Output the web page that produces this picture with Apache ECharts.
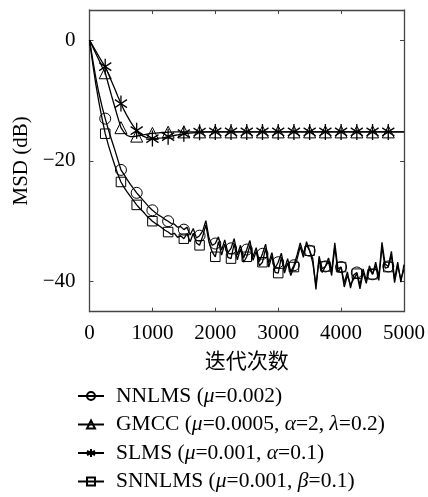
<!DOCTYPE html>
<html>
<head>
<meta charset="utf-8">
<script src="https://cdn.jsdelivr.net/npm/echarts@6/dist/echarts.min.js"></script>
<style>
html, body { margin: 0; padding: 0; background: #fff; }
#chart { width: 428px; height: 497px; }
</style>
</head>
<body>
<div id="chart"></div>
<script>
// 迭代次数 (step 50), 标记每 250 次
var iters = [];
for (var i = 0; i <= 100; i++) iters.push(i * 50);
var markEvery = 5;

var names = ['NNLMS (μ=0.002)', 'GMCC (μ=0.0005, α=2, λ=0.2)', 'SLMS (μ=0.001, α=0.1)', 'SNNLMS (μ=0.001, β=0.1)'];

var nnlms = [0, -3.2, -6.2, -8.8, -11.0, -13.0, -14.8, -16.5, -18.1, -19.8,
	-21.5, -22.3, -23.1, -23.9, -24.6, -25.3, -25.9, -26.5, -27.1, -27.7,
	-28.2, -28.6, -29.0, -29.3, -29.7, -30.0, -30.4, -30.5, -31.0, -30.9,
	-31.4, -31.0, -32.3, -31.2, -32.8, -32.4, -31.6, -29.9, -32.8, -34.0,
	-33.7, -32.6, -34.8, -33.1, -35.2, -34.5, -32.9, -35.6, -34.0, -36.1,
	-34.7, -33.2, -35.9, -34.4, -36.7, -35.4, -33.8, -36.9, -35.2, -37.8,
	-36.8, -35.3, -38.0, -36.2, -38.4, -37.3, -35.6, -33.6, -35.4, -33.9,
	-34.9, -36.2, -41.3, -35.8, -37.9, -37.5, -36.1, -38.3, -33.6, -37.9,
	-37.6, -40.2, -38.4, -41.1, -38.9, -38.5, -40.6, -37.9, -39.8, -37.4,
	-38.8, -36.8, -39.2, -33.5, -37.1, -37.5, -35.0, -39.6, -36.8, -40.1,
	-37.2];

var gmcc = [0, -1.1, -2.2, -3.3, -4.4, -5.4, -7.3, -9.2, -11.0, -12.8,
	-14.5, -15.3, -15.8, -16.0, -16.0, -15.9, -15.8, -15.7, -15.6, -15.5,
	-15.45, -15.4, -15.35, -15.3, -15.3, -15.25, -15.25, -15.2, -15.2, -15.2,
	-15.2, -15.2, -15.2, -15.2, -15.2, -15.2, -15.2, -15.2, -15.2, -15.2,
	-15.2, -15.2, -15.2, -15.2, -15.2, -15.2, -15.2, -15.2, -15.2, -15.2,
	-15.2, -15.2, -15.2, -15.2, -15.2, -15.2, -15.2, -15.2, -15.2, -15.2,
	-15.2, -15.2, -15.2, -15.2, -15.2, -15.2, -15.2, -15.2, -15.2, -15.2,
	-15.2, -15.2, -15.2, -15.2, -15.2, -15.2, -15.2, -15.2, -15.2, -15.2,
	-15.2, -15.2, -15.2, -15.2, -15.2, -15.2, -15.2, -15.2, -15.2, -15.2,
	-15.2, -15.2, -15.2, -15.2, -15.2, -15.2, -15.2, -15.2, -15.2, -15.2,
	-15.2];

var slms = [0, -0.9, -1.8, -2.7, -3.6, -4.4, -5.6, -6.8, -8.0, -9.3,
	-10.5, -11.6, -12.6, -13.5, -14.3, -15.0, -15.5, -15.9, -16.1, -16.25,
	-16.3, -16.3, -16.25, -16.2, -16.1, -16.0, -15.9, -15.8, -15.7, -15.6,
	-15.5, -15.45, -15.4, -15.35, -15.3, -15.25, -15.25, -15.2, -15.2, -15.2,
	-15.2, -15.2, -15.2, -15.2, -15.2, -15.2, -15.2, -15.2, -15.2, -15.2,
	-15.2, -15.2, -15.2, -15.2, -15.2, -15.2, -15.2, -15.2, -15.2, -15.2,
	-15.2, -15.2, -15.2, -15.2, -15.2, -15.2, -15.2, -15.2, -15.2, -15.2,
	-15.2, -15.2, -15.2, -15.2, -15.2, -15.2, -15.2, -15.2, -15.2, -15.2,
	-15.2, -15.2, -15.2, -15.2, -15.2, -15.2, -15.2, -15.2, -15.2, -15.2,
	-15.2, -15.2, -15.2, -15.2, -15.2, -15.2, -15.2, -15.2, -15.2, -15.2,
	-15.2];

var snnlms = [0, -3.8, -7.3, -10.3, -13.0, -15.5, -17.4, -19.1, -20.7, -22.2,
	-23.5, -24.4, -25.2, -25.9, -26.6, -27.3, -27.9, -28.4, -29.0, -29.5,
	-30.0, -30.4, -30.7, -31.1, -31.5, -31.8, -32.2, -32.0, -32.7, -32.4,
	-32.9, -32.1, -33.4, -32.0, -33.6, -34.0, -32.5, -30.6, -33.5, -35.1,
	-35.9, -33.4, -35.6, -33.8, -36.0, -36.2, -33.7, -36.4, -34.6, -36.8,
	-35.9, -34.0, -36.5, -35.0, -37.4, -36.8, -34.5, -37.6, -35.8, -38.5,
	-38.6, -36.0, -38.6, -36.9, -39.0, -37.6, -36.3, -34.2, -36.0, -33.4,
	-34.9, -36.9, -40.6, -36.4, -38.5, -37.5, -36.7, -39.0, -34.3, -38.5,
	-37.6, -40.9, -39.0, -40.5, -39.6, -38.7, -41.2, -38.5, -40.3, -37.9,
	-38.8, -37.4, -39.8, -34.2, -37.8, -37.6, -35.6, -40.2, -37.4, -39.6,
	-38.0];

var yTicks = [-40, -20, 0];

var starPath = 'path://M0,-1L0,1M-0.866,-0.5L0.866,0.5M-0.866,0.5L0.866,-0.5';
var serif = 'Liberation Serif';

function pts(ys) {
	return ys.map(function (y, k) {
		var p = [iters[k], y];
		if (k > 0 && k < ys.length - 1 && k % markEvery === 0) return p;
		return { value: p, symbol: 'none' };
	});
}

function mk(name, ys, symbol, size, bw) {
	return {
		name: name,
		type: 'line',
		data: pts(ys),
		symbol: symbol,
		symbolSize: size,
		symbolKeepAspect: true,
		showSymbol: true,
		showAllSymbol: true,
		lineStyle: { color: '#000', width: 1.3 },
		itemStyle: { color: 'rgba(255,255,255,0)', borderColor: '#000', borderWidth: bw || 1 },
		emphasis: { disabled: true }
	};
}

var myChart = echarts.init(document.getElementById('chart'));
var frame = { show: true, onZero: false, lineStyle: { color: '#444', width: 1.3 } };
var tick = { show: true, inside: true, length: 4, lineStyle: { color: '#444' } };
var option = {
	animation: false,
	grid: { left: 89.5, right: 22, top: 10, bottom: 185.3 },
	legend: {
		orient: 'vertical',
		left: 72,
		top: 380,
		height: 160,
		itemWidth: 26,
		itemHeight: 10,
		itemGap: 6.5,
		data: names,
		formatter: function (n) { return n.replace(/([μαλβ])/g, '{g|$1}'); },
		textStyle: {
			fontFamily: serif, fontSize: 21.5, lineHeight: 20, color: '#000',
			padding: [0, 0, 0, 7],
			rich: { g: { fontFamily: serif, fontStyle: 'italic', fontSize: 21.5, color: '#000' } }
		}
	},
	xAxis: [{
		type: 'value', min: 0, max: 5000, interval: 1000,
		name: '迭代次数', nameLocation: 'middle', nameGap: 38,
		nameTextStyle: { fontFamily: 'Noto Sans CJK SC', fontSize: 21, color: '#000' },
		axisLine: frame,
		axisTick: tick,
		axisLabel: {
			fontFamily: serif, fontSize: 21, color: '#000', margin: 11,
			formatter: function (v) { return String(v); }
		},
		splitLine: { show: false }
	}, {
		type: 'value', position: 'top', min: 0, max: 5000, interval: 1000,
		axisLine: frame,
		axisTick: tick,
		axisLabel: { show: false },
		splitLine: { show: false }
	}],
	yAxis: [{
		type: 'value', min: -45, max: 5,
		name: 'MSD (dB)', nameLocation: 'middle', nameGap: 56,
		nameTextStyle: { fontFamily: serif, fontSize: 21, color: '#000' },
		axisLine: frame,
		axisTick: { show: true, inside: true, length: 4, customValues: yTicks, lineStyle: { color: '#444' } },
		axisLabel: {
			customValues: yTicks, fontFamily: serif, fontSize: 21, color: '#000', margin: 14,
			formatter: function (v) { return String(v).replace('-', '\u2212'); }
		},
		splitLine: { show: false }
	}, {
		type: 'value', position: 'right', min: -45, max: 5,
		axisLine: frame,
		axisTick: { show: true, inside: true, length: 4, customValues: yTicks, lineStyle: { color: '#444' } },
		axisLabel: { show: false },
		splitLine: { show: false }
	}],
	series: [
		mk(names[0], nnlms, 'circle', 11),
		mk(names[1], gmcc, 'triangle', 12),
		mk(names[2], slms, starPath, [14, 16], 1.4),
		mk(names[3], snnlms, 'rect', 9.5)
	]
};
myChart.clear();
myChart.setOption(option);
</script>
</body>
</html>
